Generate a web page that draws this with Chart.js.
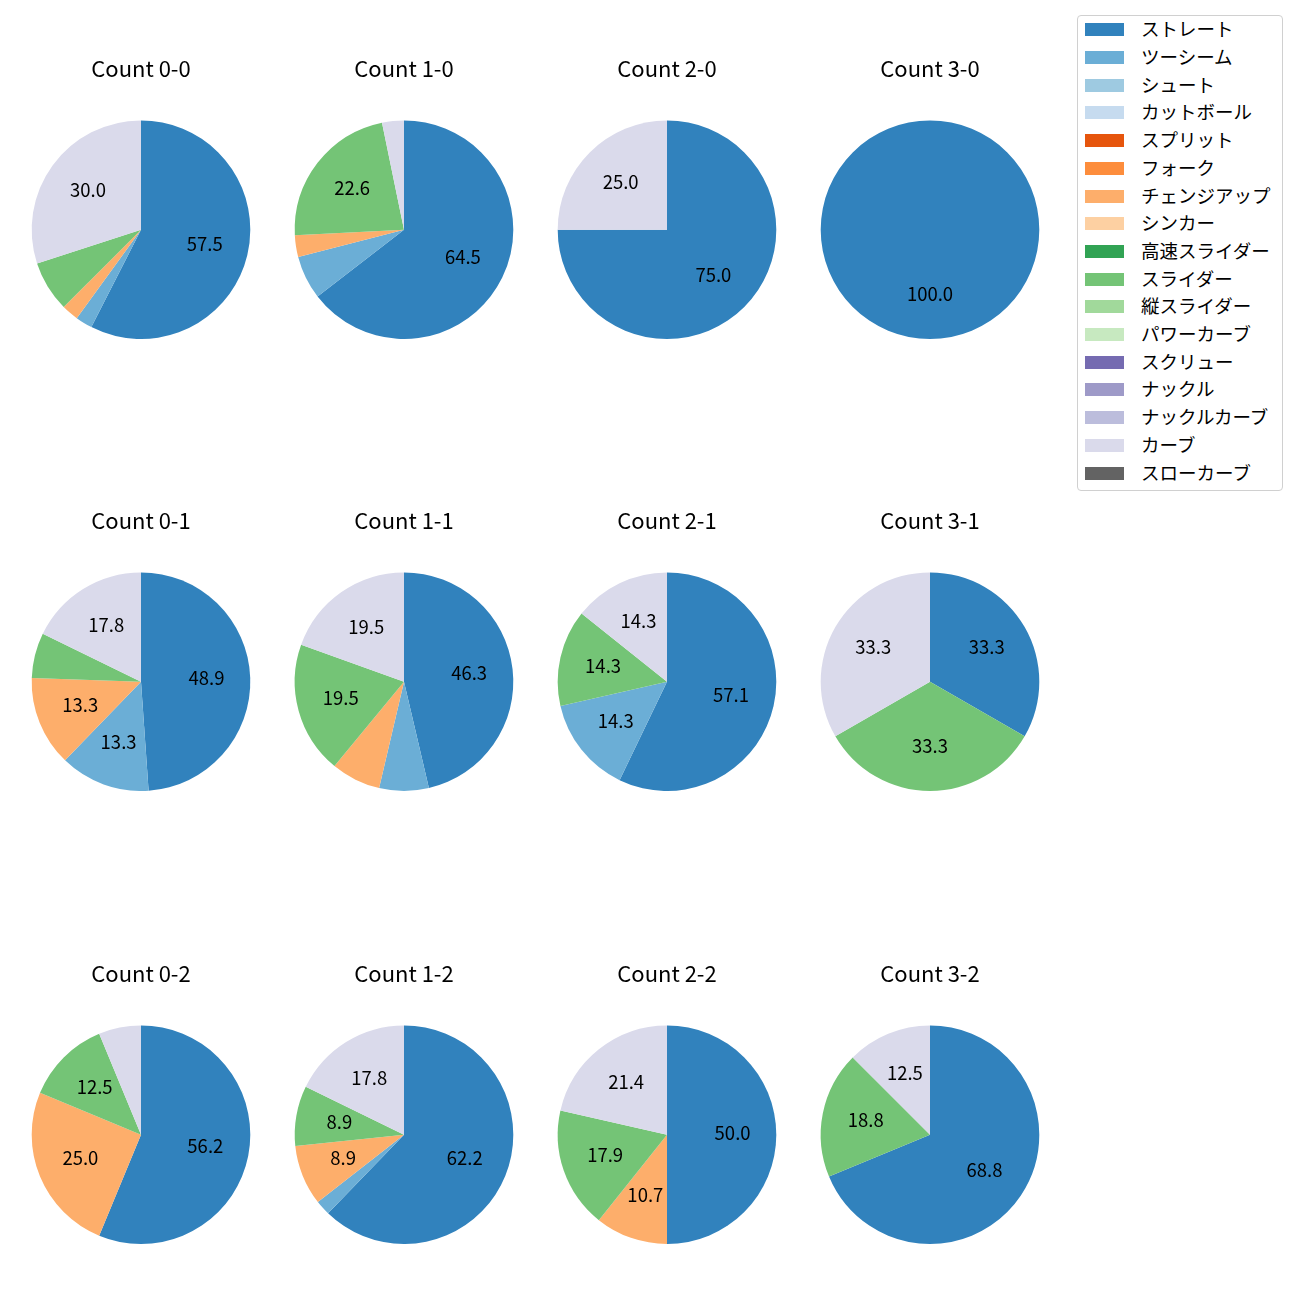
<!DOCTYPE html>
<html>
<head>
<meta charset="utf-8">
<script src="https://cdn.jsdelivr.net/npm/chart.js@4/dist/chart.umd.min.js"></script>
<style>
  html, body { margin: 0; padding: 0; background: #fff; }
  body { width: 1300px; height: 1300px; position: relative; overflow: hidden; font-family: "Noto Sans CJK JP", "Noto Sans", sans-serif; }
  .pie { position: absolute; }
  #legend { position: absolute; left: 1077px; top: 15px; width: 204px; height: 474px; border: 1px solid #d0d0d0; border-radius: 4px; background: #fff; }
  .item { position: absolute; left: 0; height: 20px; }
  .sw { position: absolute; left: 7px; top: 4px; width: 39px; height: 13px; }
  .lbl { position: absolute; left: 63px; top: -4px; font-size: 18.5px; line-height: 26px; color: #000; white-space: nowrap; }
</style>
</head>
<body>
<div id="legend"></div>
<script>
const categories = ['ストレート','ツーシーム','シュート','カットボール','スプリット','フォーク','チェンジアップ','シンカー','高速スライダー','スライダー','縦スライダー','パワーカーブ','スクリュー','ナックル','ナックルカーブ','カーブ','スローカーブ'];
const colors = ['#3182bd','#6baed6','#9ecae1','#c6dbef','#e6550d','#fd8d3c','#fdae6b','#fdd0a2','#31a354','#74c476','#a1d99b','#c7e9c0','#756bb1','#9e9ac8','#bcbddc','#dadaeb','#636363'];
const titles = ['Count 0-0','Count 1-0','Count 2-0','Count 3-0','Count 0-1','Count 1-1','Count 2-1','Count 3-1','Count 0-2','Count 1-2','Count 2-2','Count 3-2'];

// pitch counts per category (same order as categories)
const count00 = [23,1,0,0,0,0,1,0,0,3,0,0,0,0,0,12,0];
const count10 = [20,2,0,0,0,0,1,0,0,7,0,0,0,0,0,1,0];
const count20 = [3,0,0,0,0,0,0,0,0,0,0,0,0,0,0,1,0];
const count30 = [1,0,0,0,0,0,0,0,0,0,0,0,0,0,0,0,0];
const count01 = [22,6,0,0,0,0,6,0,0,3,0,0,0,0,0,8,0];
const count11 = [19,3,0,0,0,0,3,0,0,8,0,0,0,0,0,8,0];
const count21 = [4,1,0,0,0,0,0,0,0,1,0,0,0,0,0,1,0];
const count31 = [1,0,0,0,0,0,0,0,0,1,0,0,0,0,0,1,0];
const count02 = [9,0,0,0,0,0,4,0,0,2,0,0,0,0,0,1,0];
const count12 = [28,1,0,0,0,0,4,0,0,4,0,0,0,0,0,8,0];
const count22 = [14,0,0,0,0,0,3,0,0,5,0,0,0,0,0,6,0];
const count32 = [11,0,0,0,0,0,0,0,0,3,0,0,0,0,0,2,0];
const allCounts = [count00,count10,count20,count30,count01,count11,count21,count31,count02,count12,count22,count32];

const FONT = '"Noto Sans CJK JP", "Noto Sans", sans-serif';
Chart.defaults.font.family = FONT;

function fmtPct(p) {
  const x = p * 10;
  const f = Math.floor(x);
  let r;
  if (Math.abs(x - f - 0.5) < 1e-9) r = (f % 2 === 0) ? f : f + 1;
  else r = Math.round(x);
  return (r / 10).toFixed(1);
}

const pctLabels = {
  id: 'pctLabels',
  afterDatasetsDraw(chart) {
    const ctx = chart.ctx;
    const data = chart.data.datasets[0].data;
    const total = data.reduce((a, b) => a + b, 0);
    const meta = chart.getDatasetMeta(0);
    ctx.save();
    ctx.font = '18.5px ' + FONT;
    ctx.fillStyle = '#000';
    ctx.textAlign = 'center';
    ctx.textBaseline = 'middle';
    meta.data.forEach((arc, i) => {
      const v = data[i];
      if (!v) return;
      const pct = 100 * v / total;
      if (pct < 8) return;
      const p = arc.getProps(['x','y','startAngle','endAngle','outerRadius'], true);
      const mid = (p.startAngle + p.endAngle) / 2;
      const rr = 0.6 * p.outerRadius;
      ctx.fillText(fmtPct(pct), p.x + rr * Math.cos(mid), p.y + rr * Math.sin(mid) - 1.5);
    });
    ctx.restore();
  }
};

const colX = [141, 404, 667, 930];
const rowY = [229.5, 682, 1134.5];
const R = 109.5;
const titleFont = 22;
const titleBox = titleFont * 1.2;
const titleGap = 39;

allCounts.forEach((counts, k) => {
  const col = k % 4, row = Math.floor(k / 4);
  const cx = colX[col], cy = rowY[row];
  const W = 260;
  const top = cy - R - titleGap - titleBox;
  const H = titleBox + titleGap + 2 * R;
  const cv = document.createElement('canvas');
  cv.className = 'pie';
  cv.width = W; cv.height = Math.round(H);
  cv.style.left = (cx - W / 2) + 'px';
  cv.style.top = top + 'px';
  cv.style.width = W + 'px';
  cv.style.height = Math.round(H) + 'px';
  document.body.appendChild(cv);
  new Chart(cv, {
    type: 'pie',
    data: {
      labels: categories,
      datasets: [{ data: counts, backgroundColor: colors, borderWidth: 0 }]
    },
    options: {
      responsive: false,
      animation: false,
      layout: { padding: 0 },
      plugins: {
        legend: { display: false },
        tooltip: { enabled: false },
        title: {
          display: true,
          text: titles[k],
          color: '#000',
          font: { size: titleFont, weight: 'normal', family: FONT },
          padding: { top: 0, bottom: titleGap }
        }
      }
    },
    plugins: [pctLabels]
  });
});

// legend
const lg = document.getElementById('legend');
categories.forEach((c, i) => {
  const it = document.createElement('div');
  it.className = 'item';
  it.style.top = (29.3 + i * 27.7 - 15 - 11) + 'px';
  it.innerHTML = '<div class="sw" style="background:' + colors[i] + '"></div><div class="lbl">' + c + '</div>';
  lg.appendChild(it);
});
</script>
</body>
</html>
